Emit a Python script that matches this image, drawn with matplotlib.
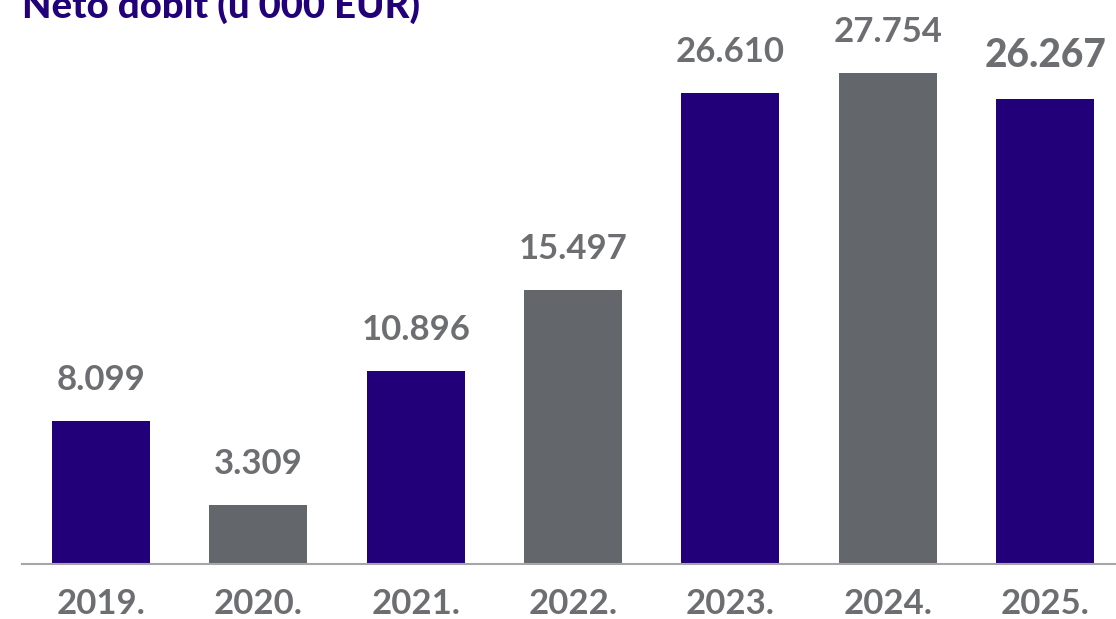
import matplotlib
matplotlib.use('Agg')
import matplotlib.pyplot as plt

years = ['2019.', '2020.', '2021.', '2022.', '2023.', '2024.', '2025.']
profit = [8099, 3309, 10896, 15497, 26610, 27754, 26267]
labels = ['8.099', '3.309', '10.896', '15.497', '26.610', '27.754', '26.267']
title = 'Neto dobit (u 000 EUR)'

purple = '#22007a'
grey = '#63666a'
text_grey = '#6d6e71'
colors = [purple, grey, purple, grey, purple, grey, purple]

plt.rcParams['font.family'] = ['Lato', 'DejaVu Sans']

fig = plt.figure(figsize=(11.16, 6.19), dpi=100)
ax = fig.add_axes([22 / 1116, 55 / 619, 1094 / 1116, 564 / 619])

x = range(len(years))
bars = ax.bar(x, profit, width=0.623, color=colors)

# value labels above bars, last one emphasised
for i, (b, lab) in enumerate(zip(bars, labels)):
    last = i == len(labels) - 1
    ax.annotate(lab, (b.get_x() + b.get_width() / 2, b.get_height()),
                xytext=(0, 18), textcoords='offset points',
                ha='center', va='bottom', color=text_grey,
                fontsize=28 if last else 25,
                fontweight='black' if last else 'bold')

ax.set_xlim(-0.502, 6.45)
ax.set_ylim(0, 564 / (471 / 26610))
ax.set_xticks(list(x))
ax.set_xticklabels(years, fontsize=25, fontweight='bold', color=text_grey)
ax.tick_params(axis='x', length=0, pad=17)
ax.set_yticks([])
for s in ['top', 'left', 'right']:
    ax.spines[s].set_visible(False)
ax.spines['bottom'].set_color('#a6a6a6')
ax.spines['bottom'].set_linewidth(1.5)

fig.text(22 / 1116, 1 - 18 / 619, title, ha='left', va='baseline',
         fontsize=27.5, fontweight='black', color=purple)

fig.savefig('out.png', dpi=100)
